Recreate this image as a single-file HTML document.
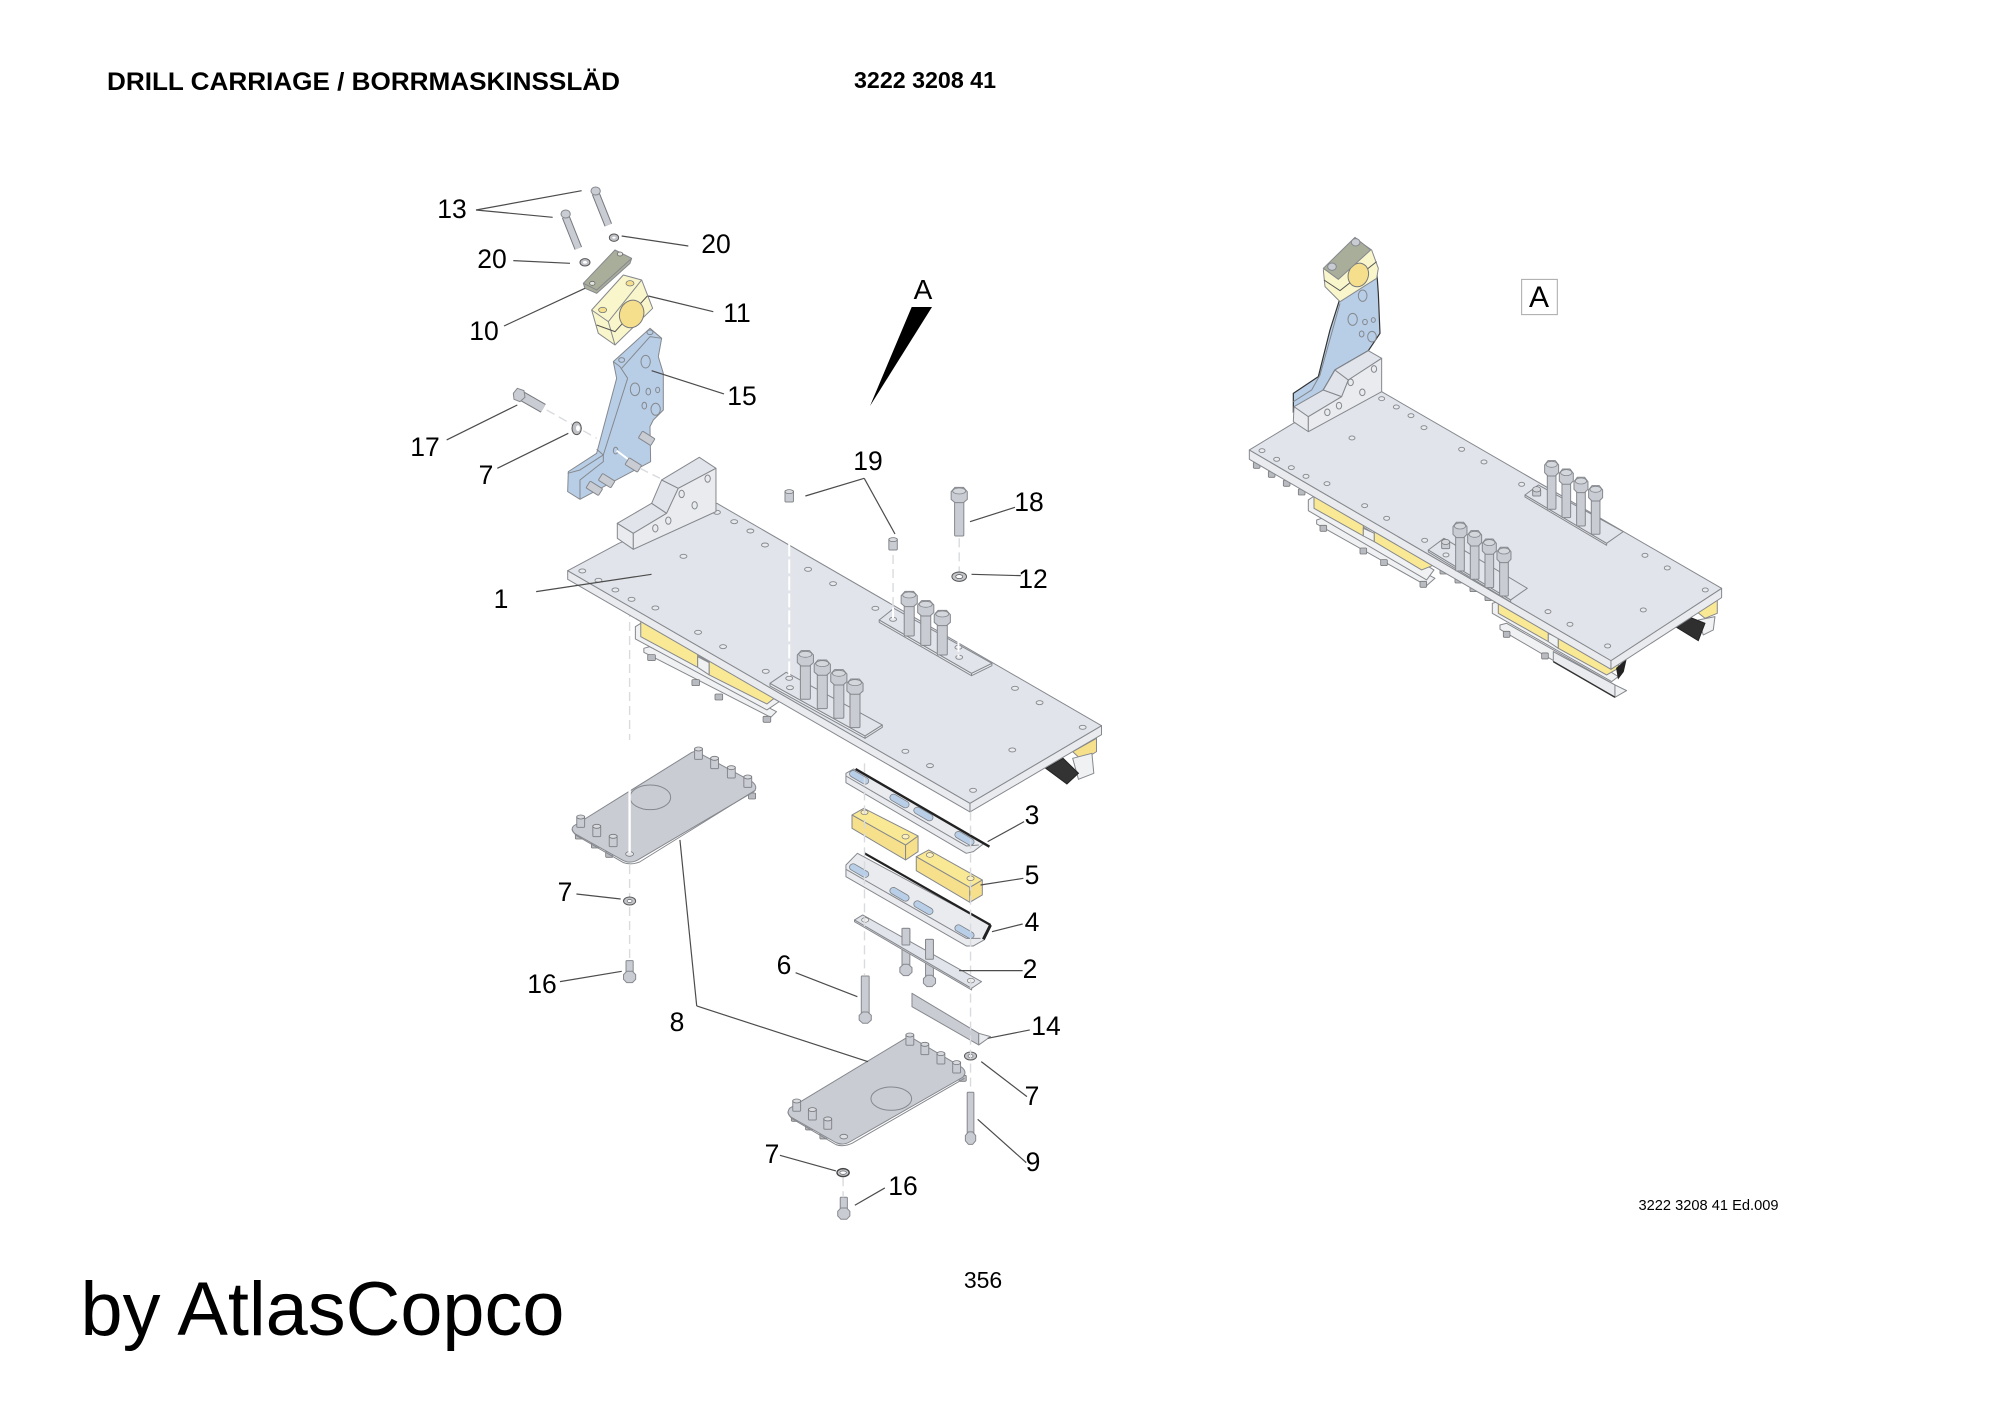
<!DOCTYPE html>
<html><head><meta charset="utf-8"><title>Drill Carriage</title>
<style>
html,body{margin:0;padding:0;background:#fff}
svg{display:block}
svg *{vector-effect:non-scaling-stroke}
.s{stroke:#85888d;stroke-width:1;stroke-linejoin:round}
.top{fill:#e1e4ea}.fr{fill:#e9ebef}.gr{fill:#c9ccd3}.ye{fill:#f9e894}.ye2{fill:#f6e08c}
.bl{fill:#b8cee7}.ol{fill:#a9ae9b}.cr{fill:#faf6cc}.wh{fill:#f0f1f3}
.l{stroke:#4c4c4c;stroke-width:1.2;fill:none}
.d{stroke:#d9dbde;stroke-width:1.4;stroke-dasharray:9 5;fill:none}
.w{stroke:#fff;stroke-width:2;stroke-dasharray:14 3;fill:none}
.slot{fill:#b9cfe8;stroke:#7c8086;stroke-width:.8}
text{font-family:"Liberation Sans",sans-serif;fill:#000}
.n{font-size:26.5px;text-anchor:middle}
</style></head><body>
<svg width="2000" height="1414" viewBox="0 0 2000 1414" xmlns="http://www.w3.org/2000/svg">
<defs>
<ellipse id="h" rx="9" ry="6" fill="#e8eaee" stroke="#85888d" stroke-width=".9"/>
<g id="hd"><polygon class="gr s" points="-21,5 -11,-8 11,-8 21,5 21,28 11,38 -11,38 -21,28"/><ellipse cx="0" cy="3" rx="17" ry="9" fill="#d4d7dc" stroke="#85888d" stroke-width=".8"/></g>
<g id="bl"><rect class="gr s" x="-13" y="28" width="26" height="110" rx="3"/><use href="#hd"/></g>
<g id="bm"><rect class="gr s" x="-13" y="28" width="26" height="98" rx="3"/><use href="#hd"/></g>
<g id="p"><rect class="gr s" x="-11" y="0" width="22" height="34" rx="3"/><ellipse cx="0" cy="3" rx="11" ry="6" fill="#d8dade" stroke="#75787d" stroke-width=".8"/></g>
<g id="nut"><rect x="-10" y="-6" width="20" height="18" rx="3" fill="#b8bbc1" stroke="#777" stroke-width=".8"/></g>
<g id="slot"><rect class="slot" x="-30" y="-10" width="60" height="20" rx="10" transform="rotate(32)"/></g>
<g id="up"><rect class="gr s" x="-11" y="0" width="22" height="118" rx="2"/><polygon class="gr s" points="-17,118 -7,108 7,108 17,118 17,132 7,142 -7,142 -17,132"/></g>
<g id="wa"><ellipse rx="17" ry="12" fill="#c4c6cb" stroke="#555" stroke-width="1"/><ellipse rx="7" ry="4.5" fill="#fff" stroke="#666" stroke-width=".7"/></g>
<g id="stud"><rect x="-22" y="-12" width="44" height="24" rx="3" class="gr s" transform="rotate(32)"/></g>
</defs>

<!-- titles -->
<text x="107" y="90" font-size="25" font-weight="bold" textLength="513" lengthAdjust="spacingAndGlyphs">DRILL CARRIAGE / BORRMASKINSSLÄD</text>
<text x="854" y="88" font-size="23" font-weight="bold" textLength="142" lengthAdjust="spacingAndGlyphs">3222 3208 41</text>
<text x="1638.5" y="1210" font-size="14.5" textLength="140" lengthAdjust="spacingAndGlyphs">3222 3208 41 Ed.009</text>
<text x="983" y="1288" font-size="23" text-anchor="middle">356</text>
<text x="80.5" y="1335" font-size="76" textLength="484" lengthAdjust="spacingAndGlyphs">by AtlasCopco</text>

<!-- arrow A -->
<polygon points="911.7,307 932,307 870,406" fill="#000"/>
<text x="923" y="299" font-size="28" text-anchor="middle">A</text>

<!-- Main plate: zoom2 coords -->
<g transform="translate(540,440) scale(.3846,.3333)">
 <line class="d" x1="233" y1="420" x2="233" y2="960"/>
 <polygon class="wh s" points="270,625 285,620 615,815 600,832 270,637"/>
 <use href="#nut" x="290" y="650"/><use href="#nut" x="405" y="725"/><use href="#nut" x="465" y="768"/><use href="#nut" x="590" y="835"/>
 <polygon class="wh s" points="248,560 262,550 622,785 590,810 248,597"/>
 <polygon class="ye s" points="262,540 410,640 410,682 262,590"/>
 <polygon class="wh s" points="410,650 440,668 440,705 410,682"/>
 <polygon class="ye s" points="440,660 612,772 590,792 440,705"/>
 <polygon class="ye2 s" points="1385,935 1447,895 1447,935 1410,962"/>
 <polygon class="wh s" points="1385,955 1435,940 1440,1000 1400,1018"/>
 <polygon fill="#333" stroke="#222" points="1315,985 1360,955 1400,1000 1370,1032"/>
 <polygon class="fr s" points="72,392 1118,1090 1118,1116 72,418"/>
 <polygon class="fr s" points="1118,1090 1460,857 1460,884 1118,1116"/>
 <polygon class="top s" points="72,392 205,310 460,190 1460,857 1118,1090"/>
 <use href="#h" x="460" y="217"/><use href="#h" x="505" y="245"/><use href="#h" x="547" y="273"/><use href="#h" x="585" y="315"/><use href="#h" x="373" y="349"/><use href="#h" x="697" y="388"/><use href="#h" x="762" y="431"/><use href="#h" x="872" y="505"/><use href="#h" x="110" y="393"/><use href="#h" x="152" y="421"/><use href="#h" x="196" y="450"/><use href="#h" x="238" y="478"/><use href="#h" x="300" y="504"/><use href="#h" x="411" y="577"/><use href="#h" x="476" y="620"/><use href="#h" x="587" y="694"/><use href="#h" x="1235" y="745"/><use href="#h" x="1299" y="788"/><use href="#h" x="1411" y="862"/><use href="#h" x="1228" y="930"/><use href="#h" x="950" y="934"/><use href="#h" x="1014" y="977"/><use href="#h" x="1126" y="1051"/>
 <!-- strips -->
 <polygon class="fr s" points="598,730 845,888 845,895 598,738"/>
 <polygon class="fr s" points="845,888 890,855 890,862 845,895"/>
 <polygon class="top s" points="598,730 640,697 890,855 845,888"/>
 <polygon class="fr s" points="882,540 1122,700 1122,707 882,547"/>
 <polygon class="fr s" points="1122,700 1175,670 1175,677 1122,707"/>
 <polygon class="top s" points="882,540 920,505 1175,670 1122,700"/>
 <use href="#h" x="648" y="715"/><use href="#h" x="650" y="743"/><use href="#h" x="918" y="538"/><use href="#h" x="1090" y="652"/><use href="#h" x="1088" y="622"/>
 <line class="w" x1="648" y1="205" x2="648" y2="715"/>
 <line class="w" x1="918" y1="350" x2="918" y2="535"/>
 <line class="w" x1="1088" y1="440" x2="1088" y2="650"/>
 <line class="d" x1="1090" y1="295" x2="1090" y2="395"/>
 <line class="d" x1="918" y1="345" x2="918" y2="500"/>
 <use href="#bl" x="690" y="640"/><use href="#bl" x="734" y="668"/><use href="#bl" x="777" y="697"/><use href="#bl" x="819" y="725"/>
 <use href="#bm" x="960" y="462"/><use href="#bm" x="1003" y="490"/><use href="#bm" x="1046" y="519"/>
 <!-- loose -->
 <use href="#p" x="648" y="152"/><use href="#p" x="918" y="296"/>
 <rect class="gr s" x="1078" y="170" width="24" height="118" rx="3"/><use href="#hd" x="1090" y="150"/>
 <ellipse cx="1090" cy="410" rx="19" ry="14" fill="#c4c6cb" stroke="#555" stroke-width="1"/><ellipse cx="1090" cy="410" rx="9" ry="6" fill="#fff" stroke="#555" stroke-width=".7"/>
 <line class="l" x1="690" y1="168" x2="843" y2="115"/><line class="l" x1="843" y1="115" x2="923" y2="282"/>
 <line class="l" x1="1118" y1="245" x2="1235" y2="202"/><line class="l" x1="1122" y1="403" x2="1250" y2="407"/>
 <line class="l" x1="-10" y1="455" x2="290" y2="403"/>
</g>

<!-- Bracket region: zoom1 coords -->
<g transform="translate(400,160) scale(.3333)">
 <!-- block -->
 <polygon class="fr s" points="652,1090 700,1120 700,1168 652,1135"/>
 <polygon class="top s" points="652,1090 755,1030 800,1060 700,1120"/>
 <polygon class="top s" points="755,1030 785,960 835,985 800,1060"/>
 <polygon class="top s" points="785,960 898,892 948,925 835,985"/>
 <polygon class="fr s" points="700,1120 800,1060 835,985 948,925 948,1055 700,1168"/>
 <ellipse cx="923" cy="956" rx="8" ry="11" class="fr s"/><ellipse cx="845" cy="1002" rx="8" ry="11" class="fr s"/><ellipse cx="884" cy="1036" rx="8" ry="11" class="fr s"/><ellipse cx="805" cy="1082" rx="8" ry="11" class="fr s"/><ellipse cx="766" cy="1105" rx="8" ry="11" class="fr s"/>
 <!-- bracket 15 -->
 <polygon class="bl s" points="640,605 750,505 785,535 775,590 790,640 790,750 760,780 750,800 752,905 540,1018 503,995 505,935 590,880 650,655"/>
 <polyline class="s" fill="none" points="683,655 610,885 540,930 503,940"/>
 <polyline class="s" fill="none" points="683,655 660,620 640,605"/>
 <polyline class="s" fill="none" points="665,625 750,530 785,535"/>
 <polyline class="s" fill="none" points="590,868 610,885 610,905 540,960 540,1018"/>
 <ellipse cx="737" cy="605" rx="14" ry="19" class="bl s"/><ellipse cx="705" cy="688" rx="14" ry="19" class="bl s"/><ellipse cx="745" cy="695" rx="7" ry="10" class="bl s"/><ellipse cx="773" cy="690" rx="6" ry="8" class="bl s"/><ellipse cx="733" cy="737" rx="7" ry="10" class="bl s"/><ellipse cx="767" cy="748" rx="14" ry="18" class="bl s"/>
 <ellipse cx="750" cy="517" rx="9" ry="7" class="bl s"/><ellipse cx="665" cy="600" rx="9" ry="7" class="bl s"/><ellipse cx="647" cy="872" rx="7" ry="10" class="bl s"/>
 <line x1="650" y1="872" x2="720" y2="925" stroke="#fff" stroke-width="2"/>
 <use href="#stud" x="740" y="835"/><use href="#stud" x="700" y="915"/><use href="#stud" x="620" y="962"/><use href="#stud" x="583" y="985"/>
 <line class="d" x1="720" y1="925" x2="780" y2="955"/>
 <line class="d" x1="440" y1="750" x2="590" y2="835"/>
 <!-- clamp -->
 <polygon class="cr s" points="575,450 670,345 725,360 758,445 645,555 595,520"/>
 <polyline class="s" fill="none" points="575,450 625,485 725,360"/>
 <polyline class="s" fill="none" points="625,485 645,555"/>
 <polyline stroke="#555" stroke-width="1" fill="none" points="590,495 645,515 742,408"/>
 <ellipse cx="695" cy="462" rx="36" ry="42" fill="#f6df8c" stroke="#75787d" stroke-width="1" transform="rotate(20 695 462)"/>
 <ellipse cx="690" cy="370" rx="12" ry="8" fill="#f6df8c" stroke="#75787d" stroke-width=".8"/><ellipse cx="608" cy="450" rx="12" ry="8" fill="#f6df8c" stroke="#75787d" stroke-width=".8"/>
 <!-- olive -->
 <polygon class="ol s" points="550,370 645,270 695,295 690,310 590,400 555,385"/>
 <polyline class="s" fill="none" points="550,370 590,390 695,295"/>
 <ellipse cx="577" cy="370" rx="8" ry="6" fill="#e3e4de" stroke="#666" stroke-width=".8"/><ellipse cx="660" cy="282" rx="8" ry="6" fill="#e3e4de" stroke="#666" stroke-width=".8"/>
 <!-- bolts 13 -->
 <g><line x1="587" y1="100" x2="625" y2="195" stroke="#75787d" stroke-width="8"/><line x1="587" y1="100" x2="625" y2="195" stroke="#c9ccd3" stroke-width="6"/><ellipse cx="587" cy="93" rx="14" ry="12" class="gr s"/></g>
 <g><line x1="497" y1="170" x2="535" y2="265" stroke="#75787d" stroke-width="8"/><line x1="497" y1="170" x2="535" y2="265" stroke="#c9ccd3" stroke-width="6"/><ellipse cx="497" cy="162" rx="14" ry="12" class="gr s"/></g>
 <ellipse cx="555" cy="307" rx="15" ry="11" fill="#bfc1c6" stroke="#555" stroke-width="1"/><ellipse cx="555" cy="307" rx="6" ry="4" fill="#fff"/>
 <ellipse cx="642" cy="233" rx="14" ry="11" fill="#bfc1c6" stroke="#555" stroke-width="1"/><ellipse cx="642" cy="233" rx="5" ry="3" fill="#fff"/>
 <!-- bolt 17 -->
 <g><line x1="360" y1="705" x2="430" y2="745" stroke="#75787d" stroke-width="10"/><line x1="360" y1="705" x2="430" y2="745" stroke="#c9ccd3" stroke-width="8"/><polygon class="gr s" points="340,700 352,685 372,692 375,712 360,725 342,718"/></g>
 <ellipse cx="530" cy="805" rx="14" ry="19" fill="#bfc1c6" stroke="#555" stroke-width="1"/><ellipse cx="534" cy="805" rx="6" ry="9" fill="#fff"/>
 <!-- leaders -->
 <line class="l" x1="228" y1="150" x2="545" y2="92"/><line class="l" x1="228" y1="150" x2="458" y2="172"/>
 <line class="l" x1="340" y1="302" x2="510" y2="310"/><line class="l" x1="665" y1="228" x2="865" y2="258"/>
 <line class="l" x1="312" y1="498" x2="555" y2="385"/><line class="l" x1="745" y1="408" x2="940" y2="455"/>
 <line class="l" x1="755" y1="632" x2="972" y2="702"/><line class="l" x1="140" y1="840" x2="352" y2="735"/>
 <line class="l" x1="292" y1="925" x2="505" y2="820"/>
</g>

<!-- Lower parts: zoom3 coords -->
<g transform="translate(520,740) scale(.357,.3333)">
 <!-- plate A -->
 <use href="#nut" x="165" y="285"/><use href="#nut" x="210" y="312"/><use href="#nut" x="250" y="340"/><use href="#nut" x="650" y="165"/>
 <path class="gr s" d="M150,258 L480,38 Q490,32 500,38 L650,125 Q668,140 655,155 L330,360 Q310,372 290,362 L155,282 Q140,270 150,258Z"/>
 <path class="s" fill="none" d="M146,268 Q150,280 160,288 L290,368 Q310,376 335,366 L660,150"/>
 <ellipse cx="365" cy="172" rx="57" ry="37" class="gr s"/>
 <use href="#p" x="170" y="228"/><use href="#p" x="215" y="256"/><use href="#p" x="261" y="286"/><use href="#p" x="500" y="24"/><use href="#p" x="545" y="52"/><use href="#p" x="592" y="80"/><use href="#p" x="638" y="108"/>
 <ellipse cx="307" cy="342" rx="11" ry="7" fill="#e3e5e9" stroke="#75787d" stroke-width=".8"/>
 <line x1="307" y1="0" x2="307" y2="338" stroke="#fff" stroke-width="2.4"/>
 <line class="d" x1="307" y1="375" x2="307" y2="662"/>
 <use href="#wa" x="307" y="483"/>
 <g transform="translate(307,662)"><rect class="gr s" x="-10" y="0" width="20" height="40" rx="2"/><polygon class="gr s" points="-17,42 -8,32 8,32 17,42 17,56 8,66 -8,66 -17,56"/></g>
 <!-- rail 3 -->
 <polygon class="fr s" points="913,100 935,87 1300,310 1270,335 1250,340 913,128"/>
 <polyline class="s" fill="none" points="913,108 1250,318 1285,315"/>
 <line x1="940" y1="87" x2="1315" y2="320" stroke="#222" stroke-width="2.4"/>
 <use href="#slot" x="950" y="112"/><use href="#slot" x="1063" y="183"/><use href="#slot" x="1130" y="222"/><use href="#slot" x="1245" y="295"/>
 <!-- rail 4 -->
 <polygon class="fr s" points="913,375 945,340 1318,555 1300,600 1270,618 1250,618 913,410"/>
 <polyline class="s" fill="none" points="913,388 1250,595 1290,595"/>
 <line x1="965" y1="340" x2="1318" y2="555" stroke="#222" stroke-width="2.2"/>
 <line x1="1318" y1="555" x2="1298" y2="598" stroke="#222" stroke-width="3"/>
 <use href="#slot" x="950" y="392"/><use href="#slot" x="1063" y="463"/><use href="#slot" x="1130" y="503"/><use href="#slot" x="1245" y="575"/>
 <!-- yellow -->
 <polygon class="ye2 s" points="930,225 1080,315 1080,360 930,265"/>
 <polygon class="ye2 s" points="1080,315 1115,288 1115,335 1080,360"/>
 <polygon class="ye s" points="930,225 963,205 1115,288 1080,315"/>
 <ellipse cx="965" cy="217" rx="10" ry="7" fill="#fbf0c0" stroke="#777" stroke-width=".7"/><ellipse cx="1080" cy="290" rx="10" ry="7" fill="#fbf0c0" stroke="#777" stroke-width=".7"/>
 <polygon class="ye2 s" points="1110,350 1260,442 1260,487 1110,392"/>
 <polygon class="ye2 s" points="1260,442 1295,420 1295,465 1260,487"/>
 <polygon class="ye s" points="1110,350 1145,330 1295,420 1260,442"/>
 <ellipse cx="1148" cy="345" rx="10" ry="7" fill="#fbf0c0" stroke="#777" stroke-width=".7"/><ellipse cx="1262" cy="415" rx="10" ry="7" fill="#fbf0c0" stroke="#777" stroke-width=".7"/>
 <!-- strip 2 -->
 <use href="#up" x="1081" y="565"/><use href="#up" x="1147" y="598"/>
 <polygon class="fr s" points="937,540 1265,745 1265,750 937,545"/>
 <polygon class="top s" points="937,540 960,525 1293,725 1265,745"/>
 <ellipse cx="967" cy="540" rx="10" ry="7" fill="#eee" stroke="#777" stroke-width=".7"/><ellipse cx="1263" cy="722" rx="10" ry="7" fill="#eee" stroke="#777" stroke-width=".7"/>
 <rect class="gr s" x="1070" y="565" width="22" height="50" rx="2"/><rect class="gr s" x="1136" y="598" width="22" height="60" rx="2"/>
 <!-- bolts -->
 <use href="#up" x="967" y="708"/>
 <g transform="translate(1262,1057) scale(.85,1.1)"><use href="#up"/></g>
 <g transform="translate(907,1372)"><rect class="gr s" x="-10" y="0" width="20" height="40" rx="2"/><polygon class="gr s" points="-17,42 -8,32 8,32 17,42 17,56 8,66 -8,66 -17,56"/></g>
 <!-- angle 14 -->
 <polygon class="gr s" points="1098,760 1285,880 1285,915 1098,800"/>
 <polygon class="fr s" points="1285,880 1318,890 1285,915"/>
 <!-- plate B -->
 <use href="#nut" x="770" y="1132"/><use href="#nut" x="810" y="1158"/><use href="#nut" x="850" y="1185"/><use href="#nut" x="1240" y="1012"/>
 <path class="gr s" d="M755,1105 L1080,895 Q1090,890 1100,895 L1235,980 Q1255,995 1240,1012 L925,1205 Q905,1218 885,1208 L760,1132 Q745,1120 755,1105Z"/>
 <path class="s" fill="none" d="M750,1115 Q752,1128 765,1138 L885,1214 Q905,1222 930,1210 L1245,1015"/>
 <ellipse cx="1040" cy="1076" rx="57" ry="35" class="gr s"/>
 <use href="#p" x="775" y="1080"/><use href="#p" x="819" y="1106"/><use href="#p" x="862" y="1134"/><use href="#p" x="1092" y="882"/><use href="#p" x="1134" y="910"/><use href="#p" x="1179" y="938"/><use href="#p" x="1223" y="965"/>
 <ellipse cx="907" cy="1190" rx="11" ry="7" fill="#dcdee2" stroke="#75787d" stroke-width=".8"/>
 <use href="#wa" x="1262" y="948"/>
 <ellipse cx="905" cy="1298" rx="17" ry="12" fill="#c4c6cb" stroke="#444" stroke-width="1.4"/><ellipse cx="905" cy="1298" rx="9" ry="5" fill="#fff" stroke="#555" stroke-width=".6"/>
 <line class="d" x1="1262" y1="215" x2="1262" y2="1055"/><line class="d" x1="965" y1="70" x2="965" y2="705"/><line class="d" x1="905" y1="1312" x2="905" y2="1372"/>
 <!-- leaders -->
 <line class="l" x1="448" y1="300" x2="495" y2="798"/><line class="l" x1="495" y1="798" x2="975" y2="965"/>
 <line class="l" x1="1310" y1="305" x2="1412" y2="245"/><line class="l" x1="1290" y1="435" x2="1410" y2="415"/>
 <line class="l" x1="1322" y1="575" x2="1408" y2="552"/><line class="l" x1="1230" y1="692" x2="1408" y2="692"/>
 <line class="l" x1="772" y1="698" x2="945" y2="770"/><line class="l" x1="1310" y1="895" x2="1428" y2="870"/>
 <line class="l" x1="1292" y1="965" x2="1420" y2="1070"/><line class="l" x1="1282" y1="1138" x2="1418" y2="1268"/>
 <line class="l" x1="158" y1="462" x2="282" y2="477"/><line class="l" x1="112" y1="725" x2="285" y2="694"/>
 <line class="l" x1="728" y1="1246" x2="885" y2="1293"/><line class="l" x1="938" y1="1396" x2="1022" y2="1344"/>
</g>

<!-- Assembled view: zoom4 coords -->
<g transform="translate(1240,220) scale(.3333)">
 <rect x="845" y="178" width="107" height="106" fill="#fff" stroke="#a8a8a8" stroke-width="1"/>
 <!-- under -->
 <use href="#nut" x="50" y="733"/><use href="#nut" x="95" y="760"/><use href="#nut" x="140" y="787"/><use href="#nut" x="185" y="813"/>
 <use href="#nut" x="610" y="1050"/><use href="#nut" x="655" y="1077"/><use href="#nut" x="700" y="1103"/><use href="#nut" x="745" y="1130"/>
 <polygon class="wh s" points="230,900 245,895 585,1075 560,1097 230,912"/>
 <use href="#nut" x="250" y="922"/><use href="#nut" x="370" y="990"/><use href="#nut" x="432" y="1025"/><use href="#nut" x="550" y="1090"/>
 <polygon class="wh s" points="205,840 220,830 582,1050 560,1080 205,872"/>
 <polygon class="ye s" points="222,825 370,915 370,948 222,865"/>
 <polygon class="wh s" points="370,925 403,940 403,965 370,948"/>
 <polygon class="ye s" points="403,930 582,1035 545,1050 403,965"/>
 <polygon class="wh s" points="780,1215 800,1210 1125,1395 1100,1415 780,1228"/>
 <use href="#nut" x="800" y="1240"/><use href="#nut" x="915" y="1305"/>
 <polygon class="wh s" points="757,1150 775,1145 1135,1370 1115,1385 757,1180"/>
 <polygon class="ye s" points="775,1140 925,1230 925,1265 775,1180"/>
 <polygon class="wh s" points="925,1240 955,1255 955,1285 925,1265"/>
 <polygon class="ye s" points="955,1245 1100,1330 1135,1315 1135,1345 1100,1365 955,1285"/>
 <polygon class="ye s" points="1370,1175 1432,1140 1432,1180 1395,1195"/>
 <polygon class="wh s" points="1375,1200 1425,1190 1420,1230 1390,1245"/>
 <polygon fill="#2f2f2f" stroke="#222" points="1298,1215 1345,1190 1395,1210 1375,1262"/>
 <polygon fill="#222" stroke="#222" points="1130,1345 1158,1320 1150,1355 1135,1375"/>
 <!-- angle 14 -->
 <polygon class="fr s" points="940,1295 1125,1395 1125,1432 940,1325"/>
 <polygon class="wh s" points="1125,1395 1160,1412 1125,1432"/>
 <line x1="940" y1="1325" x2="1125" y2="1432" stroke="#333" stroke-width="1.4"/>
 <!-- plate -->
 <polygon class="fr s" points="28,690 1113,1322 1113,1348 28,718"/>
 <polygon class="fr s" points="1113,1322 1445,1105 1445,1133 1113,1348"/>
 <polygon class="top s" points="28,690 160,610 425,515 1445,1105 1113,1322"/>
 <use href="#h" x="425" y="536"/><use href="#h" x="469" y="561"/><use href="#h" x="513" y="587"/><use href="#h" x="552" y="623"/><use href="#h" x="336" y="654"/><use href="#h" x="665" y="688"/><use href="#h" x="732" y="726"/><use href="#h" x="845" y="793"/><use href="#h" x="66" y="692"/><use href="#h" x="110" y="718"/><use href="#h" x="154" y="743"/><use href="#h" x="198" y="769"/><use href="#h" x="261" y="791"/><use href="#h" x="374" y="857"/><use href="#h" x="440" y="895"/><use href="#h" x="554" y="961"/><use href="#h" x="1215" y="1006"/><use href="#h" x="1282" y="1044"/><use href="#h" x="1396" y="1110"/><use href="#h" x="1210" y="1170"/><use href="#h" x="924" y="1175"/><use href="#h" x="990" y="1213"/><use href="#h" x="1103" y="1278"/>
 <!-- strips -->
 <polygon class="fr s" points="565,990 812,1140 812,1146 565,996"/>
 <polygon class="top s" points="565,990 612,955 862,1105 812,1140"/>
 <polygon class="fr s" points="855,825 1100,970 1100,976 855,831"/>
 <polygon class="top s" points="855,825 895,795 1150,935 1100,970"/>
 <use href="#h" x="618" y="1005"/>
 <g transform="translate(617,970)"><rect class="gr s" x="-12" y="-4" width="24" height="20" rx="3"/><ellipse cy="-4" rx="12" ry="8" fill="#d3d5da" stroke="#75787d" stroke-width=".8"/></g>
 <g transform="translate(890,812)"><rect class="gr s" x="-12" y="-4" width="24" height="20" rx="3"/><ellipse cy="-4" rx="12" ry="8" fill="#d3d5da" stroke="#75787d" stroke-width=".8"/></g>
 <use href="#bl" x="660" y="915"/><use href="#bl" x="704" y="940"/><use href="#bl" x="748" y="965"/><use href="#bl" x="792" y="990"/>
 <use href="#bl" x="935" y="730"/><use href="#bl" x="979" y="755"/><use href="#bl" x="1023" y="780"/><use href="#bl" x="1067" y="805"/>
 <!-- bracket -->
 <polygon class="bl" stroke="#333" stroke-width="1.2" points="160,520 235,470 270,330 300,235 410,150 415,220 420,340 385,392 285,450 250,510 160,575"/>
 <polyline class="s" fill="none" points="300,250 240,465 215,510 160,545"/>
 <ellipse cx="368" cy="227" rx="13" ry="17" class="bl s"/><ellipse cx="338" cy="298" rx="14" ry="18" class="bl s"/><ellipse cx="375" cy="306" rx="7" ry="8" class="bl s"/><ellipse cx="400" cy="300" rx="6" ry="7" class="bl s"/><ellipse cx="365" cy="342" rx="7" ry="9" class="bl s"/><ellipse cx="396" cy="350" rx="13" ry="16" class="bl s"/>
 <!-- block -->
 <polygon class="fr s" points="162,560 205,590 205,635 160,605"/>
 <polygon class="top s" points="162,560 250,510 305,530 205,590"/>
 <polygon class="top s" points="250,510 285,450 325,480 305,530"/>
 <polygon class="top s" points="285,450 385,392 425,415 325,480"/>
 <polygon class="fr s" points="205,590 305,530 325,480 425,415 425,515 205,635"/>
 <ellipse cx="402" cy="447" rx="8" ry="10" class="fr s"/><ellipse cx="332" cy="487" rx="8" ry="10" class="fr s"/><ellipse cx="367" cy="517" rx="8" ry="10" class="fr s"/><ellipse cx="297" cy="557" rx="8" ry="10" class="fr s"/><ellipse cx="262" cy="577" rx="8" ry="10" class="fr s"/>
 <!-- clamp -->
 <polygon class="cr s" points="250,150 345,55 395,90 415,145 410,175 300,245 255,200"/>
 <polyline stroke="#555" stroke-width="1" fill="none" points="252,180 300,212 410,125"/>
 <ellipse cx="355" cy="165" rx="30" ry="36" fill="#f6df8c" stroke="#75787d" stroke-width="1" transform="rotate(20 355 165)"/>
 <polygon class="ol s" points="250,145 345,52 392,90 295,178"/>
 <ellipse cx="276" cy="140" rx="13" ry="11" class="gr s"/><ellipse cx="347" cy="67" rx="13" ry="11" class="gr s"/>
</g>
<text x="1539" y="307" font-size="30" text-anchor="middle">A</text>

<!-- labels -->
<g class="labels">
<text class="n" x="452" y="218">13</text>
<text class="n" x="716" y="253">20</text>
<text class="n" x="492" y="268">20</text>
<text class="n" x="484" y="340">10</text>
<text class="n" x="737" y="322">11</text>
<text class="n" x="742" y="405">15</text>
<text class="n" x="425" y="456">17</text>
<text class="n" x="486" y="484">7</text>
<text class="n" x="868" y="470">19</text>
<text class="n" x="1029" y="511">18</text>
<text class="n" x="1033" y="588">12</text>
<text class="n" x="501" y="608">1</text>
<text class="n" x="1032" y="824">3</text>
<text class="n" x="1032" y="884">5</text>
<text class="n" x="1032" y="931">4</text>
<text class="n" x="1030" y="978">2</text>
<text class="n" x="784" y="974">6</text>
<text class="n" x="677" y="1031">8</text>
<text class="n" x="1046" y="1035">14</text>
<text class="n" x="1032" y="1105">7</text>
<text class="n" x="1033" y="1171">9</text>
<text class="n" x="565" y="901">7</text>
<text class="n" x="542" y="993">16</text>
<text class="n" x="772" y="1163">7</text>
<text class="n" x="903" y="1195">16</text>
</g>
</svg>
</body></html>
